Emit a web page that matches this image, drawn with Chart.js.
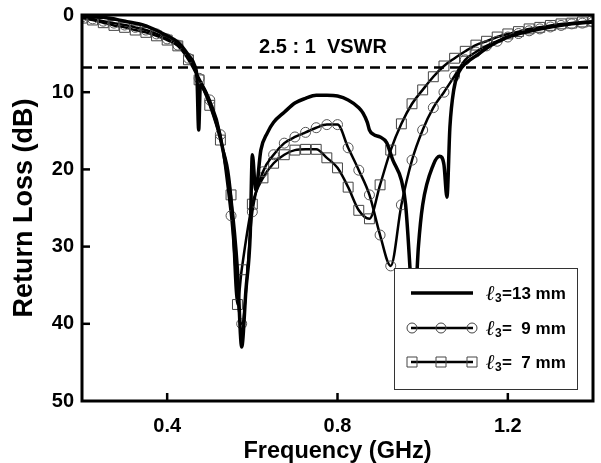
<!DOCTYPE html>
<html><head><meta charset="utf-8">
<script src="https://cdn.jsdelivr.net/npm/chart.js@4.4.0/dist/chart.umd.min.js"></script>
<style>html,body{margin:0;padding:0;background:#fff}#wrap{width:601px;height:463px;position:relative}</style>
</head><body><div id="wrap"><canvas id="c"></canvas></div>
<script>
// ---- data ----
const freq13 = [0.2,0.25,0.3,0.35,0.4,0.425,0.45,0.465,0.47,0.474,0.478,0.49,0.5,0.525,0.55,0.565,0.575,0.585,0.595,0.6,0.608,0.62,0.635,0.65,0.675,0.7,0.725,0.75,0.775,0.8,0.825,0.85,0.86,0.87,0.875,0.885,0.9,0.915,0.93,0.95,0.96,0.97,0.978,0.99,1.0,1.025,1.04,1.05,1.057,1.064,1.073,1.085,1.1,1.125,1.15,1.175,1.2,1.25,1.3,1.35,1.4];
const rl13   = [0.2,0.3,0.8,1.4,2.7,3.5,5.2,6.6,8.2,14.9,9.1,10.0,11.4,15.9,24.0,33.0,43.0,35.6,28.5,18.1,22.7,17.5,15.3,13.9,12.6,11.4,10.8,10.4,10.4,10.5,11.0,12.0,12.7,13.9,14.9,15.5,15.8,16.5,18.8,21.4,24.6,32.6,41.0,30.0,24.6,19.4,18.3,19.4,23.6,14.5,9.7,7.4,6.3,5.3,4.3,3.5,2.85,2.1,1.55,1.15,0.9];

const freq9 = [0.2,0.225,0.25,0.275,0.3,0.325,0.35,0.375,0.4,0.425,0.45,0.475,0.5,0.525,0.55,0.575,0.6,0.625,0.65,0.675,0.7,0.725,0.75,0.775,0.8,0.825,0.85,0.875,0.9,0.925,0.95,0.975,1.0,1.025,1.05,1.075,1.1,1.125,1.15,1.175,1.2,1.225,1.25,1.275,1.3,1.325,1.35,1.375,1.4];
const rl9   = [0.25,0.5,0.8,1.05,1.3,1.6,1.95,2.45,3.1,3.9,5.6,8.2,11.0,15.5,26.0,40.0,25.5,20.3,18.1,16.6,15.8,15.2,14.6,14.2,14.2,17.2,20.1,23.3,28.5,32.5,24.6,18.8,14.9,12.0,10.0,7.9,5.8,4.8,4.0,3.4,2.85,2.4,2.05,1.8,1.55,1.35,1.15,1.05,0.9];

const freq7 = [0.2,0.225,0.25,0.275,0.3,0.325,0.35,0.375,0.4,0.425,0.45,0.475,0.5,0.525,0.55,0.565,0.575,0.6,0.625,0.65,0.675,0.7,0.725,0.75,0.775,0.8,0.825,0.85,0.875,0.9,0.925,0.95,0.975,1.0,1.025,1.05,1.075,1.1,1.125,1.15,1.175,1.2,1.225,1.25,1.275,1.3,1.325,1.35,1.375,1.4];
const rl7   = [0.4,0.65,1.0,1.35,1.6,1.95,2.25,2.7,3.25,4.0,5.8,8.4,11.7,16.2,23.3,37.5,33.0,24.5,21.1,19.2,18.1,17.5,17.4,17.4,18.5,19.8,22.3,25.3,26.4,22.0,17.5,14.1,11.5,9.7,8.0,6.6,5.6,4.7,3.9,3.4,2.85,2.45,2.15,1.8,1.6,1.35,1.15,1.05,0.9,0.8];

const xTicks = [0.4, 0.8, 1.2];
const yTicks = [0, 10, 20, 30, 40, 50];
const vswrLevel = 6.8;
const vswrLabel = '2.5 : 1  VSWR';
const legendTexts = ['=13 mm', '=  9 mm', '=  7 mm'];
const xTitle = 'Frequency (GHz)';
const yTitle = 'Return Loss (dB)';

const pts = (f, r) => f.map((v, i) => ({x: v, y: r[i]}));
const FONT = '"Liberation Sans", Arial, sans-serif';

const decor = {
  id: 'decor',
  afterDatasetsDraw(chart) {
    const ctx = chart.ctx, a = chart.chartArea;
    const xs = chart.scales.x, ys = chart.scales.y;
    ctx.save();
    // VSWR label
    ctx.fillStyle = '#000';
    ctx.font = 'bold 20px ' + FONT;
    ctx.textAlign = 'center'; ctx.textBaseline = 'middle';
    ctx.fillText(vswrLabel, 323, 47);
    // legend box
    const bx = 394, by = 268, bw = 183, bh = 121;
    ctx.fillStyle = '#fff';
    ctx.fillRect(bx, by, bw, bh);
    ctx.strokeStyle = '#333'; ctx.lineWidth = 1;
    ctx.strokeRect(bx + 0.5, by + 0.5, bw, bh);
    const rows = [293, 328, 362];
    rows.forEach((ry, i) => {
      ctx.strokeStyle = '#000';
      ctx.lineWidth = i === 0 ? 3.5 : 2.5;
      ctx.beginPath(); ctx.moveTo(411, ry); ctx.lineTo(473, ry); ctx.stroke();
      if (i > 0) {
        ctx.strokeStyle = '#444'; ctx.lineWidth = 1;
        [412, 441, 472].forEach(mx => {
          ctx.beginPath();
          if (i === 1) ctx.arc(mx, ry, 5, 0, Math.PI * 2);
          else ctx.rect(mx - 5, ry - 5, 10, 10);
          ctx.stroke();
        });
      }
      ctx.fillStyle = '#000';
      ctx.textAlign = 'left'; ctx.textBaseline = 'alphabetic';
      ctx.font = 'italic bold 21px "DejaVu Serif", serif';
      ctx.fillText('ℓ', 486, ry + 7);
      ctx.font = 'bold 12px ' + FONT;
      ctx.fillText('3', 495, ry + 9);
      ctx.font = 'bold 17px ' + FONT;
      ctx.fillText(legendTexts[i], 502, ry + 6);
    });
    // frame
    ctx.strokeStyle = '#000'; ctx.lineWidth = 3;
    ctx.strokeRect(a.left, a.top, a.right - a.left, a.bottom - a.top);
    // inward ticks
    ctx.lineWidth = 2.5;
    xTicks.forEach(v => {
      const px = xs.getPixelForValue(v);
      ctx.beginPath(); ctx.moveTo(px, a.bottom); ctx.lineTo(px, a.bottom - 8); ctx.stroke();
    });
    yTicks.slice(1, -1).forEach(v => {
      const py = ys.getPixelForValue(v);
      ctx.beginPath(); ctx.moveTo(a.left, py); ctx.lineTo(a.left + 8, py); ctx.stroke();
    });
    ctx.restore();
  }
};

new Chart(document.getElementById('c'), {
  type: 'line',
  data: {
    datasets: [
      {data: pts([0.2, 1.4], [vswrLevel, vswrLevel]), borderColor: '#000', borderWidth: 2.5, borderDash: [10, 6], pointRadius: 0},
      {data: pts(freq13, rl13), borderColor: '#000', borderWidth: 3.5, pointRadius: 0, cubicInterpolationMode: 'monotone'},
      {data: pts(freq9, rl9), borderColor: '#000', borderWidth: 2.5, pointRadius: 5, pointStyle: 'circle', pointBorderColor: '#555', pointBorderWidth: 1, pointBackgroundColor: 'rgba(0,0,0,0)', cubicInterpolationMode: 'monotone'},
      {data: pts(freq7, rl7), borderColor: '#000', borderWidth: 2.5, pointRadius: 7, pointStyle: 'rect', pointBorderColor: '#444', pointBorderWidth: 1, pointBackgroundColor: 'rgba(0,0,0,0)', cubicInterpolationMode: 'monotone'}
    ]
  },
  options: {
    responsive: true, maintainAspectRatio: false, animation: false,
    layout: {padding: {top: 15, right: 5, left: 0, bottom: 0}},
    plugins: {legend: {display: false}, tooltip: {enabled: false}},
    scales: {
      x: {
        type: 'linear', min: 0.2, max: 1.4,
        afterBuildTicks: s => { s.ticks = xTicks.map(v => ({value: v})); },
        afterFit: s => { s.height = 62; },
        grid: {display: false}, border: {display: false},
        ticks: {color: '#000', padding: 5, font: {family: FONT, size: 20, weight: 'bold'}, callback: v => v.toFixed(1)},
        title: {display: true, text: xTitle, color: '#000', padding: {top: 0, bottom: -3}, font: {family: FONT, size: 23.5, weight: 'bold'}}
      },
      y: {
        reverse: true, min: 0, max: 50,
        afterBuildTicks: s => { s.ticks = yTicks.map(v => ({value: v})); },
        afterFit: s => { s.width = 82; },
        grid: {display: false}, border: {display: false},
        ticks: {color: '#000', padding: 0, font: {family: FONT, size: 20, weight: 'bold'}},
        title: {display: true, text: yTitle, color: '#000', padding: {top: 8, bottom: 0}, font: {family: FONT, size: 27, weight: 'bold'}}
      }
    }
  },
  plugins: [decor]
});
</script></body></html>
